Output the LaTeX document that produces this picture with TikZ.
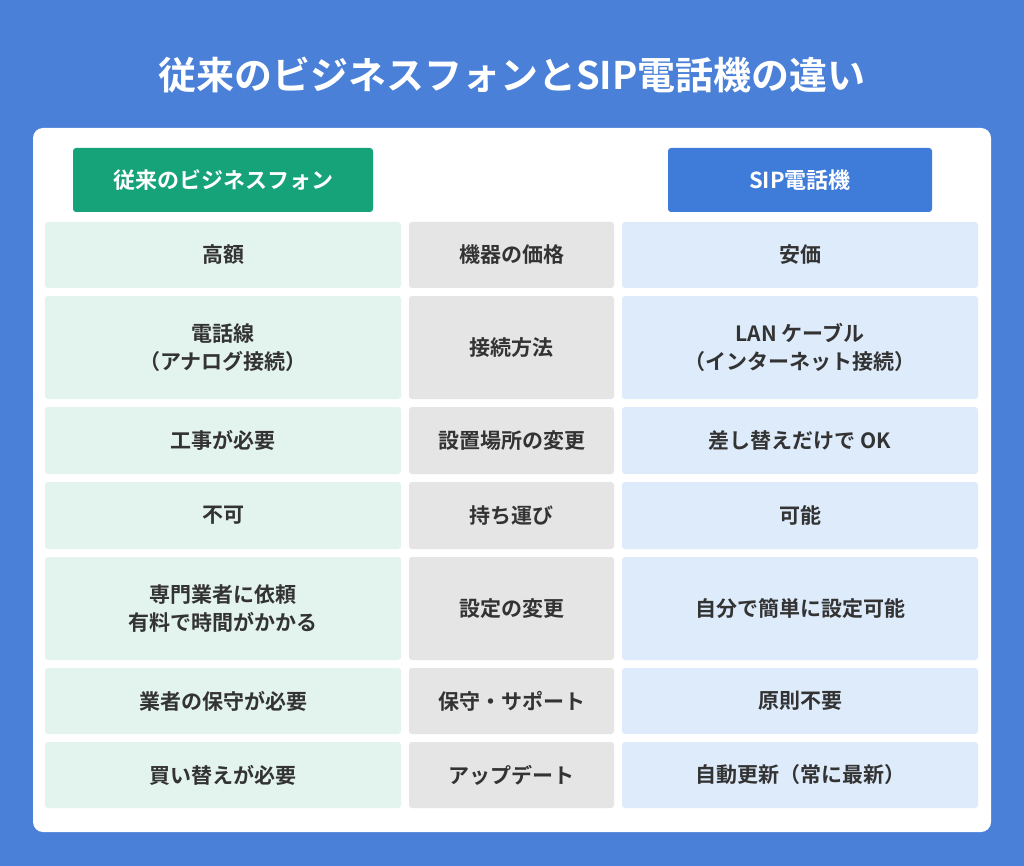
\documentclass[tikz,border=0pt]{standalone}
\usepackage{fontspec}
\setmainfont{Noto Sans CJK JP}[BoldFont={* Bold}]
\definecolor{bg}{HTML}{4A80D8}
\definecolor{hgreen}{HTML}{17A37A}
\definecolor{hblue}{HTML}{3F7BD9}
\definecolor{cgreen}{HTML}{E3F3EE}
\definecolor{cgray}{HTML}{E5E5E5}
\definecolor{cblue}{HTML}{DDEBFB}
\definecolor{txt}{HTML}{333333}
\begin{document}
\begin{tikzpicture}[x=1pt,y=-1pt,
  cell/.style={rounded corners=3pt,inner sep=0pt},
  ctext/.style={font=\fontsize{21}{28}\selectfont\bfseries,text=txt,align=center}]
\useasboundingbox (0,0) rectangle (1024,866);
\fill[bg] (0,0) rectangle (1024,866);
\fill[white,rounded corners=10pt] (33,128) rectangle (991,832);
\node[font=\fontsize{38}{44}\selectfont\bfseries,text=white] (title) at (512,75) {従来のビジネスフォンとSIP電話機の違い};
\fill[hgreen,rounded corners=3pt] (73,148) rectangle (373,212);
\node[font=\fontsize{22}{28}\selectfont\bfseries,text=white] (hl) at (223,180) {従来のビジネスフォン};
\fill[hblue,rounded corners=3pt] (668,148) rectangle (932,212);
\node[font=\fontsize{22}{28}\selectfont\bfseries,text=white] (hr) at (800,180) {SIP電話機};
\foreach \i/\ya/\yb/\l/\m/\r in {
 1/222/288/{高額}/{機器の価格}/{安価},
 2/296/399/{電話線\\（アナログ接続）}/{接続方法}/{LAN ケーブル\\（インターネット接続）},
 3/407/474/{工事が必要}/{設置場所の変更}/{差し替えだけで OK},
 4/482/549/{不可}/{持ち運び}/{可能},
 5/557/660/{専門業者に依頼\\有料で時間がかかる}/{設定の変更}/{自分で簡単に設定可能},
 6/668/734/{業者の保守が必要}/{保守・サポート}/{原則不要},
 7/742/808/{買い替えが必要}/{アップデート}/{自動更新（常に最新）}}{
 \fill[cgreen,cell] (45,\ya) rectangle (401,\yb);
 \fill[cgray,cell] (409,\ya) rectangle (614,\yb);
 \fill[cblue,cell] (622,\ya) rectangle (978,\yb);
 \node[ctext] (l\i) at (223,{(\ya+\yb)/2}) {\l};
 \node[ctext] (m\i) at (511.5,{(\ya+\yb)/2}) {\m};
 \node[ctext] (r\i) at (800,{(\ya+\yb)/2}) {\r};
}
\end{tikzpicture}
\end{document}
